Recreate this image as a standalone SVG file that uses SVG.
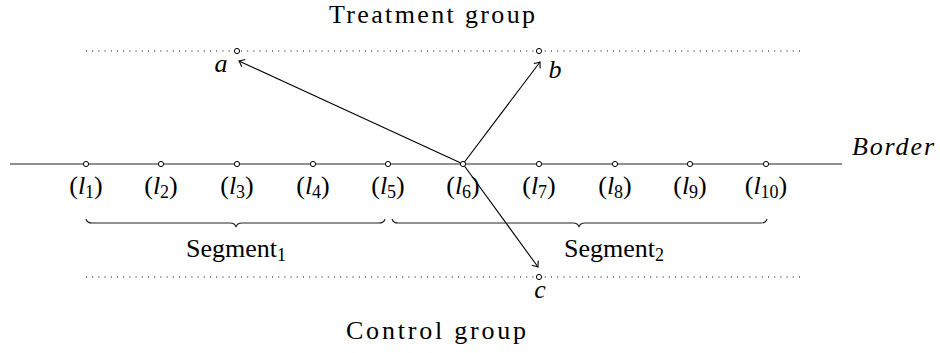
<svg xmlns="http://www.w3.org/2000/svg" width="940" height="353" viewBox="0 0 940 353">
<defs>
<marker id="to" markerUnits="userSpaceOnUse" markerWidth="14" markerHeight="14" viewBox="-8 -7 10 14" refX="0" refY="0" orient="auto">
<path d="M-5,-4 Q-1.5,-1 0,0 Q-1.5,1 -5,4" fill="none" stroke="#000" stroke-width="1.1"/>
</marker>
</defs>

<g id="guides" fill="none">
<g stroke="#000" stroke-width="1" stroke-dasharray="1 5.2">
<line x1="86" y1="51" x2="802" y2="51"/>
<line x1="86" y1="277" x2="802" y2="277"/>
</g>
<line stroke="#222" stroke-width="1.2" x1="10" y1="164" x2="842" y2="164"/>
</g>

<g id="titles">
<text x="432" y="23" text-anchor="middle" font-family="Times New Roman" font-size="26" textLength="206">Treatment group</text>
<text x="436" y="339" text-anchor="middle" font-family="Times New Roman" font-size="26" textLength="180">Control group</text>
<text x="852" y="155" font-family="Times New Roman" font-size="26" font-style="italic" textLength="82">Border</text>
</g>

<g id="connectors" stroke="#000" stroke-width="1.1" fill="none" marker-end="url(#to)">
<line x1="463" y1="164" x2="239" y2="61"/>
<line x1="463" y1="164" x2="540" y2="62"/>
<line x1="463" y1="164" x2="538" y2="267"/>
</g>

<g id="landmarks" fill="#fff" stroke="#000" stroke-width="1">
<circle id="l1-pt" cx="86" cy="164" r="2.6"/>
<circle id="l2-pt" cx="161" cy="164" r="2.6"/>
<circle id="l3-pt" cx="237" cy="164" r="2.6"/>
<circle id="l4-pt" cx="313" cy="164" r="2.6"/>
<circle id="l5-pt" cx="388" cy="164" r="2.6"/>
<circle id="l6-pt" cx="463" cy="164" r="2.6"/>
<circle id="l7-pt" cx="539" cy="164" r="2.6"/>
<circle id="l8-pt" cx="615" cy="164" r="2.6"/>
<circle id="l9-pt" cx="690" cy="164" r="2.6"/>
<circle id="l10-pt" cx="766" cy="164" r="2.6"/>
<circle id="a-pt" cx="237" cy="51" r="2.6"/>
<circle id="b-pt" cx="539" cy="51" r="2.6"/>
<circle id="c-pt" cx="539" cy="277" r="2.6"/>
</g>

<g id="l1"><text x="86" y="194" text-anchor="middle" font-family="Times New Roman" font-size="26">(<tspan font-style="italic">l</tspan><tspan font-size="18" dy="4">1</tspan><tspan dy="-4">)</tspan></text></g>
<g id="l2"><text x="161" y="194" text-anchor="middle" font-family="Times New Roman" font-size="26">(<tspan font-style="italic">l</tspan><tspan font-size="18" dy="4">2</tspan><tspan dy="-4">)</tspan></text></g>
<g id="l3"><text x="237" y="194" text-anchor="middle" font-family="Times New Roman" font-size="26">(<tspan font-style="italic">l</tspan><tspan font-size="18" dy="4">3</tspan><tspan dy="-4">)</tspan></text></g>
<g id="l4"><text x="313" y="194" text-anchor="middle" font-family="Times New Roman" font-size="26">(<tspan font-style="italic">l</tspan><tspan font-size="18" dy="4">4</tspan><tspan dy="-4">)</tspan></text></g>
<g id="l5"><text x="388" y="194" text-anchor="middle" font-family="Times New Roman" font-size="26">(<tspan font-style="italic">l</tspan><tspan font-size="18" dy="4">5</tspan><tspan dy="-4">)</tspan></text></g>
<g id="l6"><text x="463" y="194" text-anchor="middle" font-family="Times New Roman" font-size="26">(<tspan font-style="italic">l</tspan><tspan font-size="18" dy="4">6</tspan><tspan dy="-4">)</tspan></text></g>
<g id="l7"><text x="539" y="194" text-anchor="middle" font-family="Times New Roman" font-size="26">(<tspan font-style="italic">l</tspan><tspan font-size="18" dy="4">7</tspan><tspan dy="-4">)</tspan></text></g>
<g id="l8"><text x="615" y="194" text-anchor="middle" font-family="Times New Roman" font-size="26">(<tspan font-style="italic">l</tspan><tspan font-size="18" dy="4">8</tspan><tspan dy="-4">)</tspan></text></g>
<g id="l9"><text x="690" y="194" text-anchor="middle" font-family="Times New Roman" font-size="26">(<tspan font-style="italic">l</tspan><tspan font-size="18" dy="4">9</tspan><tspan dy="-4">)</tspan></text></g>
<g id="l10"><text x="766" y="194" text-anchor="middle" font-family="Times New Roman" font-size="26">(<tspan font-style="italic">l</tspan><tspan font-size="18" dy="4">10</tspan><tspan dy="-4">)</tspan></text></g>

<g id="a"><text x="221" y="72" text-anchor="middle" font-family="Times New Roman" font-size="26" font-style="italic">a</text></g>
<g id="b"><text x="555" y="78" text-anchor="middle" font-family="Times New Roman" font-size="26" font-style="italic">b</text></g>
<g id="c"><text x="540" y="298" text-anchor="middle" font-family="Times New Roman" font-size="26" font-style="italic">c</text></g>

<g id="segment1">
<path fill="none" stroke="#222" stroke-width="1.1" d="M86,219 Q87,223 92,223 H230 Q235,223 236,227 Q237,223 242,223 H379 Q384,223 385,219"/>
<text x="236" y="257" text-anchor="middle" font-family="Times New Roman" font-size="26">Segment<tspan font-size="18" dy="4">1</tspan></text>
</g>
<g id="segment2">
<path fill="none" stroke="#222" stroke-width="1.1" d="M392,219 Q393,223 398,223 H573 Q578,223 579,227 Q580,223 585,223 H761 Q766,223 767,219"/>
<text x="614" y="257" text-anchor="middle" font-family="Times New Roman" font-size="26">Segment<tspan font-size="18" dy="4">2</tspan></text>
</g>
</svg>
